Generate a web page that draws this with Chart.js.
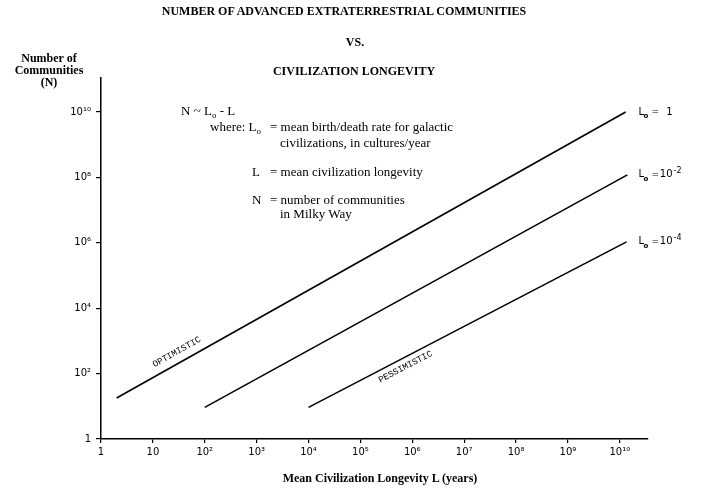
<!DOCTYPE html>
<html>
<head>
<meta charset="utf-8">
<script src="https://cdn.jsdelivr.net/npm/chart.js@4.4.1/dist/chart.umd.min.js"></script>
<style>
  body { margin: 0; background: #fff; }
  #wrap { position: relative; width: 701px; height: 503px; }
  canvas { position: absolute; left: 0; top: 0; }
  .t { position: absolute; font-family: "Liberation Serif", "Times New Roman", serif; font-size: 12px; line-height: 14px; color: #000; white-space: nowrap; }
  .f { font-size: 13px; }
  .b { font-weight: bold; }
  .c { transform: translateX(-50%); text-align: center; }
  sub { font-size: 9px; vertical-align: -3px; line-height: 0; }
</style>
</head>
<body>
<div id="wrap">
  <canvas id="chart" width="701" height="503"></canvas>

  <div class="t b c" style="left:344px; top:4px;">NUMBER OF ADVANCED EXTRATERRESTRIAL COMMUNITIES</div>
  <div class="t b c" style="left:355px; top:35px;">VS.</div>
  <div class="t b c" style="left:354px; top:64px;">CIVILIZATION LONGEVITY</div>

  <div class="t b c" style="left:49px; top:52px; line-height:12px;">Number of<br>Communities<br>(N)</div>

  <div class="t f" style="left:181px; top:104px;">N ~ L<sub>o</sub> - L</div>
  <div class="t f" style="left:210px; top:120px;">where: L<sub>o</sub></div>
  <div class="t f" style="left:270px; top:120px;">= mean birth/death rate for galactic</div>
  <div class="t f" style="left:280px; top:136px;">civilizations, in cultures/year</div>
  <div class="t f" style="left:252px; top:165px;">L</div>
  <div class="t f" style="left:270px; top:165px;">= mean civilization longevity</div>
  <div class="t f" style="left:252px; top:193px;">N</div>
  <div class="t f" style="left:270px; top:193px;">= number of communities</div>
  <div class="t f" style="left:280px; top:207px;">in Milky Way</div>

  <div class="t b c" style="left:380px; top:471px;">Mean Civilization Longevity L (years)</div>
</div>

<script>
// axis ticks
const xTickValues = [1, 1e1, 1e2, 1e3, 1e4, 1e5, 1e6, 1e7, 1e8, 1e9, 1e10];
const xTickLabels = ['1', '10', '10²', '10³', '10⁴', '10⁵', '10⁶', '10⁷', '10⁸', '10⁹', '10¹⁰'];
const yTickValues = [1, 1e2, 1e4, 1e6, 1e8, 1e10];
const yTickLabels = ['1', '10²', '10⁴', '10⁶', '10⁸', '10¹⁰'];

// the three lines (start / end of each)
const startL = [2, 100, 1e4];
const startN = [18, 9.3, 9.3];
const endL = [1.3e10, 1.4e10, 1.35e10];
const endN = [1e10, 1.2e8, 1.07e6];

// line end labels  "Lo = 1", "Lo = 10^-2", "Lo = 10^-4"
const labelBase = ['1', '10', '10'];
const labelSup = ['', '-2', '-4'];
const labelL = 2.3e10;

// words written along the lines
const slantWords = [
  { text: 'OPTIMISTIC', line: 0, L: 29, N: 457 },
  { text: 'PESSIMISTIC', line: 2, L: 7.4e5, N: 160 }
];

const lineLabels = {
  id: 'lineLabels',
  afterDatasetsDraw(chart) {
    const { ctx } = chart;
    const x = chart.scales.x, y = chart.scales.y;
    ctx.save();
    ctx.fillStyle = '#000';
    ctx.textBaseline = 'middle';

    labelBase.forEach((base, i) => {
      const px = x.getPixelForValue(labelL);
      const py = y.getPixelForValue(endN[i]);
      ctx.textAlign = 'left';
      ctx.font = '10px "DejaVu Sans"';
      ctx.fillText('L', px, py);
      ctx.font = 'bold 7px "DejaVu Sans"';
      ctx.fillText('o', px + 5, py + 4);
      ctx.font = '9px "DejaVu Sans"';
      ctx.fillText('=', px + 13, py);
      ctx.font = '10px "DejaVu Sans"';
      ctx.textAlign = 'right';
      ctx.fillText(base, px + 34, py);
      if (labelSup[i]) {
        ctx.font = '8px "DejaVu Sans"';
        ctx.textAlign = 'left';
        ctx.fillText(labelSup[i], px + 35, py - 4);
      }
    });

    slantWords.forEach(w => {
      const x1 = x.getPixelForValue(startL[w.line]), y1 = y.getPixelForValue(startN[w.line]);
      const x2 = x.getPixelForValue(endL[w.line]), y2 = y.getPixelForValue(endN[w.line]);
      const ang = Math.atan2(y2 - y1, x2 - x1);
      ctx.save();
      ctx.translate(x.getPixelForValue(w.L), y.getPixelForValue(w.N));
      ctx.rotate(ang);
      ctx.font = '9px "Liberation Mono"';
      ctx.textAlign = 'center';
      ctx.fillText(w.text, 0, 0);
      ctx.restore();
    });
    ctx.restore();
  }
};

const datasets = startL.map((s, i) => ({
  data: [{ x: s, y: startN[i] }, { x: endL[i], y: endN[i] }],
  borderColor: '#000',
  borderWidth: 1.6,
  pointRadius: 0,
  fill: false
}));

new Chart(document.getElementById('chart').getContext('2d'), {
  type: 'line',
  data: { datasets },
  plugins: [lineLabels],
  options: {
    responsive: false,
    animation: false,
    events: [],
    layout: { padding: { left: 0, top: 78, right: 53, bottom: 0 } },
    plugins: { legend: { display: false }, tooltip: { enabled: false } },
    scales: {
      x: {
        type: 'logarithmic',
        min: 1,
        max: 3.5e10,
        afterBuildTicks: s => { s.ticks = xTickValues.map(v => ({ value: v })); },
        afterFit: s => { s.height = 64; },
        border: { color: '#000', width: 1.5 },
        grid: { drawOnChartArea: false, color: '#000', lineWidth: 1.2, tickLength: 4 },
        ticks: {
          color: '#000',
          padding: 3,
          maxRotation: 0,
          autoSkip: false,
          font: { family: 'DejaVu Sans', size: 10 },
          callback: (v, i) => xTickLabels[i]
        }
      },
      y: {
        type: 'logarithmic',
        min: 1,
        max: 1.1e11,
        afterBuildTicks: s => { s.ticks = yTickValues.map(v => ({ value: v })); },
        afterFit: s => { s.width = 101; },
        border: { color: '#000', width: 1.5 },
        grid: { drawOnChartArea: false, color: '#000', lineWidth: 1.2, tickLength: 5 },
        ticks: {
          color: '#000',
          padding: 5,
          autoSkip: false,
          font: { family: 'DejaVu Sans', size: 10 },
          callback: (v, i) => yTickLabels[i]
        }
      }
    }
  }
});
</script>
</body>
</html>
